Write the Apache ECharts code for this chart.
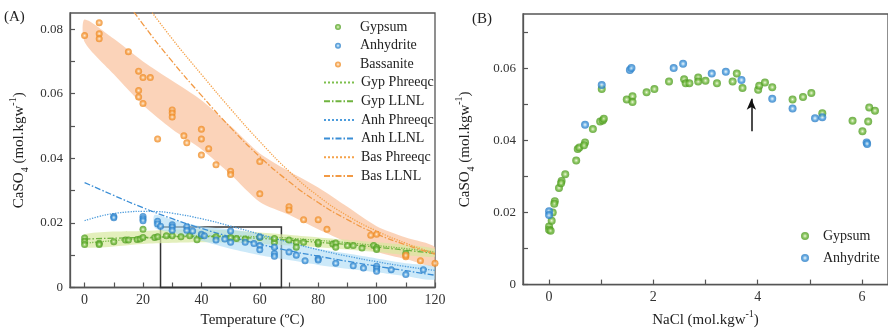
<!DOCTYPE html>
<html><head><meta charset="utf-8">
<script src="https://cdn.jsdelivr.net/npm/echarts@6/dist/echarts.min.js"></script>
<style>html,body{margin:0;padding:0;background:#fff}#c{width:888px;height:333px}</style>
</head><body><div id="c"></div>
<script>
// ---------- Panel A data (Temperature °C, CaSO4 mol/kgw) ----------
const gypsumA = [[0,0.0153],[0,0.0143],[0,0.0133],[5,0.0137],[5,0.0133],[10,0.0142],[14,0.0147],[15,0.0147],[18,0.0149],[19,0.015],[20,0.018],[20,0.0155],[24,0.0155],[25,0.0157],[28,0.016],[30,0.016],[33,0.0157],[36,0.016],[38.5,0.0148],[40,0.016],[45,0.0157],[50,0.0155],[52,0.0152],[55,0.015],[60,0.0155],[65,0.014],[65,0.0152],[70,0.0147],[72.5,0.014],[72.5,0.0125],[75,0.014],[80,0.0135],[80,0.014],[85,0.0135],[86,0.0138],[86,0.0125],[90,0.013],[92,0.013],[95,0.0122],[99,0.013],[100,0.0124],[100,0.0118],[110,0.0105]];
const anhydriteA = [[10,0.022],[10,0.0216],[20,0.022],[20,0.0213],[20,0.0207],[25,0.0205],[25,0.0197],[26,0.019],[30,0.0194],[30,0.0187],[30,0.0177],[35,0.0188],[35,0.0177],[37,0.0175],[40,0.0165],[41,0.016],[45,0.0147],[48,0.015],[50,0.0175],[50,0.014],[55,0.014],[58,0.0136],[60,0.0157],[60,0.013],[60,0.0117],[65,0.0105],[65,0.0097],[65,0.0125],[70,0.011],[72.5,0.010],[75.5,0.0083],[80,0.009],[80,0.0085],[86,0.0075],[92,0.0067],[95.5,0.006],[100,0.0066],[100,0.0058],[100,0.005],[105,0.0055],[110,0.004],[116,0.0055]];
const bassaniteA = [[0,0.078],[5,0.082],[5,0.0786],[5,0.077],[15,0.073],[18.5,0.067],[20,0.065],[22.5,0.065],[18.5,0.061],[18.5,0.059],[20,0.057],[25,0.046],[30,0.055],[30,0.054],[30,0.0528],[34,0.047],[35,0.0448],[40,0.049],[40,0.046],[40,0.041],[42.5,0.043],[45,0.038],[50,0.036],[50,0.035],[60,0.039],[60,0.029],[70,0.025],[70,0.024],[75,0.021],[80,0.021],[83,0.018],[98,0.0162],[100,0.0165],[110,0.0095],[110,0.0100],[115,0.0083],[120,0.0075]];

const gypPhreeqc = [[0,0.0137],[20,0.0152],[40,0.016],[60,0.0157],[80,0.0146],[100,0.013],[120,0.011]];
const gypLLNL = [[0,0.015],[20,0.0155],[40,0.0158],[60,0.0152],[80,0.014],[100,0.0125],[120,0.0105]];
const anhPhreeqc = [[0,0.0207],[5,0.022],[10,0.0229],[15,0.0234],[20,0.0236],[25,0.0235],[30,0.023],[40,0.0213],[50,0.019],[60,0.0165],[70,0.014],[80,0.0117],[90,0.0097],[100,0.008],[110,0.0065],[120,0.0053]];
const anhLLNL = [[0,0.0325],[10,0.0285],[20,0.0247],[30,0.0213],[40,0.0183],[50,0.0157],[60,0.0134],[70,0.0114],[80,0.0097],[90,0.0081],[100,0.0066],[110,0.0052],[120,0.0038]];
const basPhreeqc = [[20,0.089],[30,0.077],[40,0.066],[50,0.0553],[60,0.0452],[70,0.036],[80,0.0283],[90,0.0222],[100,0.0175],[110,0.0137],[120,0.0106]];
const basLLNL = [[10,0.094],[20,0.0815],[30,0.070],[40,0.0595],[50,0.0495],[60,0.0405],[70,0.0328],[80,0.0263],[90,0.021],[100,0.0166],[110,0.0132],[120,0.0103]];

// uncertainty bands: x, upper, lower
const basBandT = [0,10,20,30,40,50,60,70,80,90,100,110,120];
const basBandUp = [0.083,0.077,0.070,0.064,0.058,0.050,0.0415,0.036,0.031,0.025,0.019,0.0155,0.0125];
const basBandLo = [0.076,0.066,0.0565,0.049,0.0428,0.035,0.0265,0.0225,0.018,0.014,0.011,0.0088,0.0066];
const gypBandT = [0,20,40,60,80,100,120];
const gypBandUp = [0.0165,0.0175,0.018,0.017,0.0155,0.014,0.012];
const gypBandLo = [0.0125,0.0135,0.014,0.0135,0.0125,0.011,0.0095];
const anhBandT = [24,30,40,50,60,70,80,90,100,110,120];
const anhBandUp = [0.0225,0.021,0.019,0.018,0.0165,0.014,0.012,0.0105,0.009,0.0075,0.0063];
const anhBandLo = [0.0185,0.017,0.0145,0.012,0.010,0.0085,0.007,0.0058,0.0047,0.0035,0.0025];

const zoomBox = [[26,0],[67.4,0.0187]];

// ---------- Panel B data (NaCl mol/kgw, CaSO4 mol/kgw) ----------
const gypsumB = [[0,0.0161],[0,0.0152],[0.03,0.0149],[0.05,0.0177],[0.07,0.020],[0.11,0.0231],[0.1,0.0224],[0.19,0.0268],[0.24,0.0287],[0.23,0.0281],[0.31,0.0306],[0.52,0.0344],[0.55,0.0376],[0.58,0.038],[0.69,0.0394],[0.67,0.0386],[0.84,0.0431],[0.98,0.0452],[1.03,0.0455],[1.05,0.046],[1.01,0.0542],[1.49,0.0513],[1.6,0.0522],[1.6,0.0506],[1.87,0.0533],[2.02,0.0542],[2.3,0.0563],[2.59,0.0569],[2.62,0.0558],[2.69,0.0558],[2.86,0.0574],[2.86,0.0563],[3.0,0.0565],[3.22,0.0558],[3.52,0.0563],[3.6,0.0585],[3.71,0.0545],[4.01,0.054],[4.03,0.0551],[4.14,0.056],[4.28,0.0547],[4.67,0.0513],[4.87,0.052],[5.03,0.0531],[5.24,0.0475],[5.82,0.0454],[6.01,0.0425],[6.12,0.0452],[6.14,0.0491],[6.25,0.0482]];
const anhydriteB = [[0,0.0203],[0,0.0193],[0.69,0.0443],[1.01,0.0553],[1.55,0.0595],[1.58,0.060],[2.39,0.060],[2.57,0.0612],[3.12,0.0585],[3.39,0.059],[3.69,0.0567],[4.28,0.0515],[4.67,0.0488],[5.1,0.0461],[5.24,0.0464],[6.09,0.0394],[6.1,0.039]];
const arrowB = [[3.88,0.0425],[3.88,0.0515]];

// ---------- tick values ----------
const xTicksA = [0,10,20,30,40,50,60,70,80,90,100,110,120];
const xLabelsA = [0,20,40,60,80,100,120];
const yTicksA = [0,0.01,0.02,0.03,0.04,0.05,0.06,0.07,0.08];
const yLabelsA = [0,0.02,0.04,0.06,0.08];
const xTicksB = [0,1,2,3,4,5,6];
const xLabelsB = [0,2,4,6];
const yTicksB = [0,0.01,0.02,0.03,0.04,0.05,0.06,0.07];
const yLabelsB = [0,0.02,0.04,0.06];

const FONT = '"Liberation Serif","DejaVu Serif",serif';
const AX = '#555';
function ball(dark, mid, light) {
  return {type:'radial', x:0.5, y:0.5, r:0.5, colorStops:[{offset:0,color:'#f4fbe8'},{offset:0.22,color:light},{offset:0.6,color:mid},{offset:1,color:dark}]};
}
const gypBall = ball('#4f9a22','#67b334','#b5dc8c');
const anhBall = ball('#2a7cc4','#3e93d8','#a8d2f2');
const basBall = ball('#ec8a22','#f59a3c','#fcd0a0');
function fmt(v){ return v === 0 ? '0' : v.toFixed(2); }
function band(xs, up, lo, color) {
  return {type:'custom', xAxisIndex:0, yAxisIndex:0, silent:true, z:1, clip:true,
    data:[[xs[0], lo[0]]],
    renderItem(params, api) {
      const pts = [];
      for (let i = 0; i < xs.length; i++) pts.push(api.coord([xs[i], up[i]]));
      for (let i = xs.length - 1; i >= 0; i--) pts.push(api.coord([xs[i], lo[i]]));
      return {type:'polygon', shape:{points:pts, smooth:0.25}, style:{fill:color}};
    }};
}
function lineS(name, data, color, type) {
  return {name, type:'line', xAxisIndex:0, yAxisIndex:0, data, smooth:true, symbol:'none', z:3,
    lineStyle:{color, width:1.3, type}, itemStyle:{color}};
}
const nameRich = {
  n:{fontFamily:FONT, fontSize:15, color:'#222', lineHeight:22},
  sub:{fontFamily:FONT, fontSize:10, color:'#222', verticalAlign:'bottom', lineHeight:22},
  sup:{fontFamily:FONT, fontSize:10, color:'#222', verticalAlign:'top', lineHeight:22}
};
function xAxisCfg(grid, min, max, ticks, labels, name, gap) {
  return {type:'value', gridIndex:grid, min, max, name, nameLocation:'middle', nameGap:gap,
    nameTextStyle:{rich:nameRich},
    axisLine:{onZero:false, lineStyle:{color:AX, width:1.3}},
    axisTick:{inside:true, length:5, customValues:ticks, lineStyle:{color:AX, width:1.2}},
    axisLabel:{customValues:labels, fontFamily:FONT, fontSize:14, color:'#333', margin:6},
    splitLine:{show:false}};
}
function yAxisCfg(grid, min, max, ticks, labels, name, gap) {
  return {type:'value', gridIndex:grid, min, max, name, nameLocation:'middle', nameGap:gap,
    nameTextStyle:{rich:nameRich},
    axisLine:{onZero:false, lineStyle:{color:AX, width:1.3}},
    axisTick:{inside:true, length:5, customValues:ticks, lineStyle:{color:AX, width:1.2}},
    axisLabel:{customValues:labels, fontFamily:FONT, fontSize:13, color:'#333', margin:7, formatter:fmt},
    splitLine:{show:false}};
}
const yName = '{n|CaSO}{sub|4}{n| (mol.kgw}{sup|-1}{n|)}';

const chart = echarts.init(document.getElementById('c'));
chart.setOption({
  animation:false,
  backgroundColor:'#fff',
  grid:[
    {left:70, top:13, width:365, height:282, show:true, borderColor:AX, borderWidth:1.3},
    {left:523, top:14, width:368, height:278, show:true, borderColor:AX, borderWidth:1.3}
  ],
  xAxis:[
    xAxisCfg(0, -5, 120, xTicksA, xLabelsA, '{n|Temperature (ºC)}', 22),
    xAxisCfg(1, -0.5, 6.5, xTicksB, xLabelsB, '{n|NaCl (mol.kgw}{sup|-1}{n|)}', 22)
  ],
  yAxis:[
    yAxisCfg(0, 0, 0.085, yTicksA, yLabelsA, yName, 40),
    yAxisCfg(1, 0, 0.075, yTicksB, yLabelsB, yName, 47)
  ],
  legend:[
    {orient:'vertical', left:335, top:20, padding:0, itemWidth:6, itemHeight:6, itemGap:4.7, selectedMode:false,
     data:['Gypsum','Anhydrite','Bassanite'],
     textStyle:{fontFamily:FONT, fontSize:14, color:'#222', padding:[0,0,0,14]}},
    {orient:'vertical', left:323, top:75.5, padding:0, itemWidth:30, itemHeight:14, itemGap:4.7, selectedMode:false,
     itemStyle:{color:'rgba(0,0,0,0)', borderWidth:0, opacity:0},
     data:['Gyp Phreeqc','Gyp LLNL','Anh Phreeqc','Anh LLNL','Bas Phreeqc','Bas LLNL'],
     textStyle:{fontFamily:FONT, fontSize:14, color:'#222', padding:[0,0,0,2]}},
    {orient:'vertical', left:801, top:229, padding:0, itemWidth:8, itemHeight:8, itemGap:8, selectedMode:false,
     data:['Gypsum','Anhydrite'],
     textStyle:{fontFamily:FONT, fontSize:14, color:'#222', padding:[0,0,0,9]}}
  ],
  graphic:[
    {type:'text', left:4, top:10, style:{text:'(A)', font:'15px ' + FONT, fill:'#222'}},
    {type:'text', left:472, top:12, style:{text:'(B)', font:'15px ' + FONT, fill:'#222'}}
  ],
  series:[
    band(basBandT, basBandUp, basBandLo, 'rgba(250,192,155,0.7)'),
    band(gypBandT, gypBandUp, gypBandLo, 'rgba(215,232,160,0.7)'),
    band(anhBandT, anhBandUp, anhBandLo, 'rgba(170,218,245,0.6)'),
    lineS('Gyp Phreeqc', gypPhreeqc, '#7dbf4c', 'dotted'),
    lineS('Gyp LLNL', gypLLNL, '#6fb33f', [6,2,1.5,2]),
    lineS('Anh Phreeqc', anhPhreeqc, '#4d9cdc', 'dotted'),
    lineS('Anh LLNL', anhLLNL, '#3a8ed6', [6,2,1.5,2]),
    lineS('Bas Phreeqc', basPhreeqc, '#f5a24a', 'dotted'),
    lineS('Bas LLNL', basLLNL, '#f29a45', [6,2,1.5,2]),
    {name:'Gypsum', type:'scatter', xAxisIndex:0, yAxisIndex:0, data:gypsumA, symbolSize:7, z:4,
     itemStyle:{color:gypBall},
     markArea:{silent:true, itemStyle:{color:'rgba(0,0,0,0)', borderColor:'#333', borderWidth:1.5},
       data:[[{coord:zoomBox[0]},{coord:zoomBox[1]}]]}},
    {name:'Anhydrite', type:'scatter', xAxisIndex:0, yAxisIndex:0, data:anhydriteA, symbolSize:7, z:4,
     itemStyle:{color:anhBall}},
    {name:'Bassanite', type:'scatter', xAxisIndex:0, yAxisIndex:0, data:bassaniteA, symbolSize:7, z:4,
     itemStyle:{color:basBall}},
    {name:'Gypsum', type:'scatter', xAxisIndex:1, yAxisIndex:1, data:gypsumB, symbolSize:8, z:4,
     itemStyle:{color:gypBall},
     markLine:{silent:true, symbol:['none','arrow'], symbolSize:[7,11], label:{show:false},
       lineStyle:{color:'#111', width:1.5, type:'solid'},
       data:[[{coord:arrowB[0]},{coord:arrowB[1]}]]}},
    {name:'Anhydrite', type:'scatter', xAxisIndex:1, yAxisIndex:1, data:anhydriteB, symbolSize:8, z:4,
     itemStyle:{color:anhBall}}
  ]
});
</script></body></html>
